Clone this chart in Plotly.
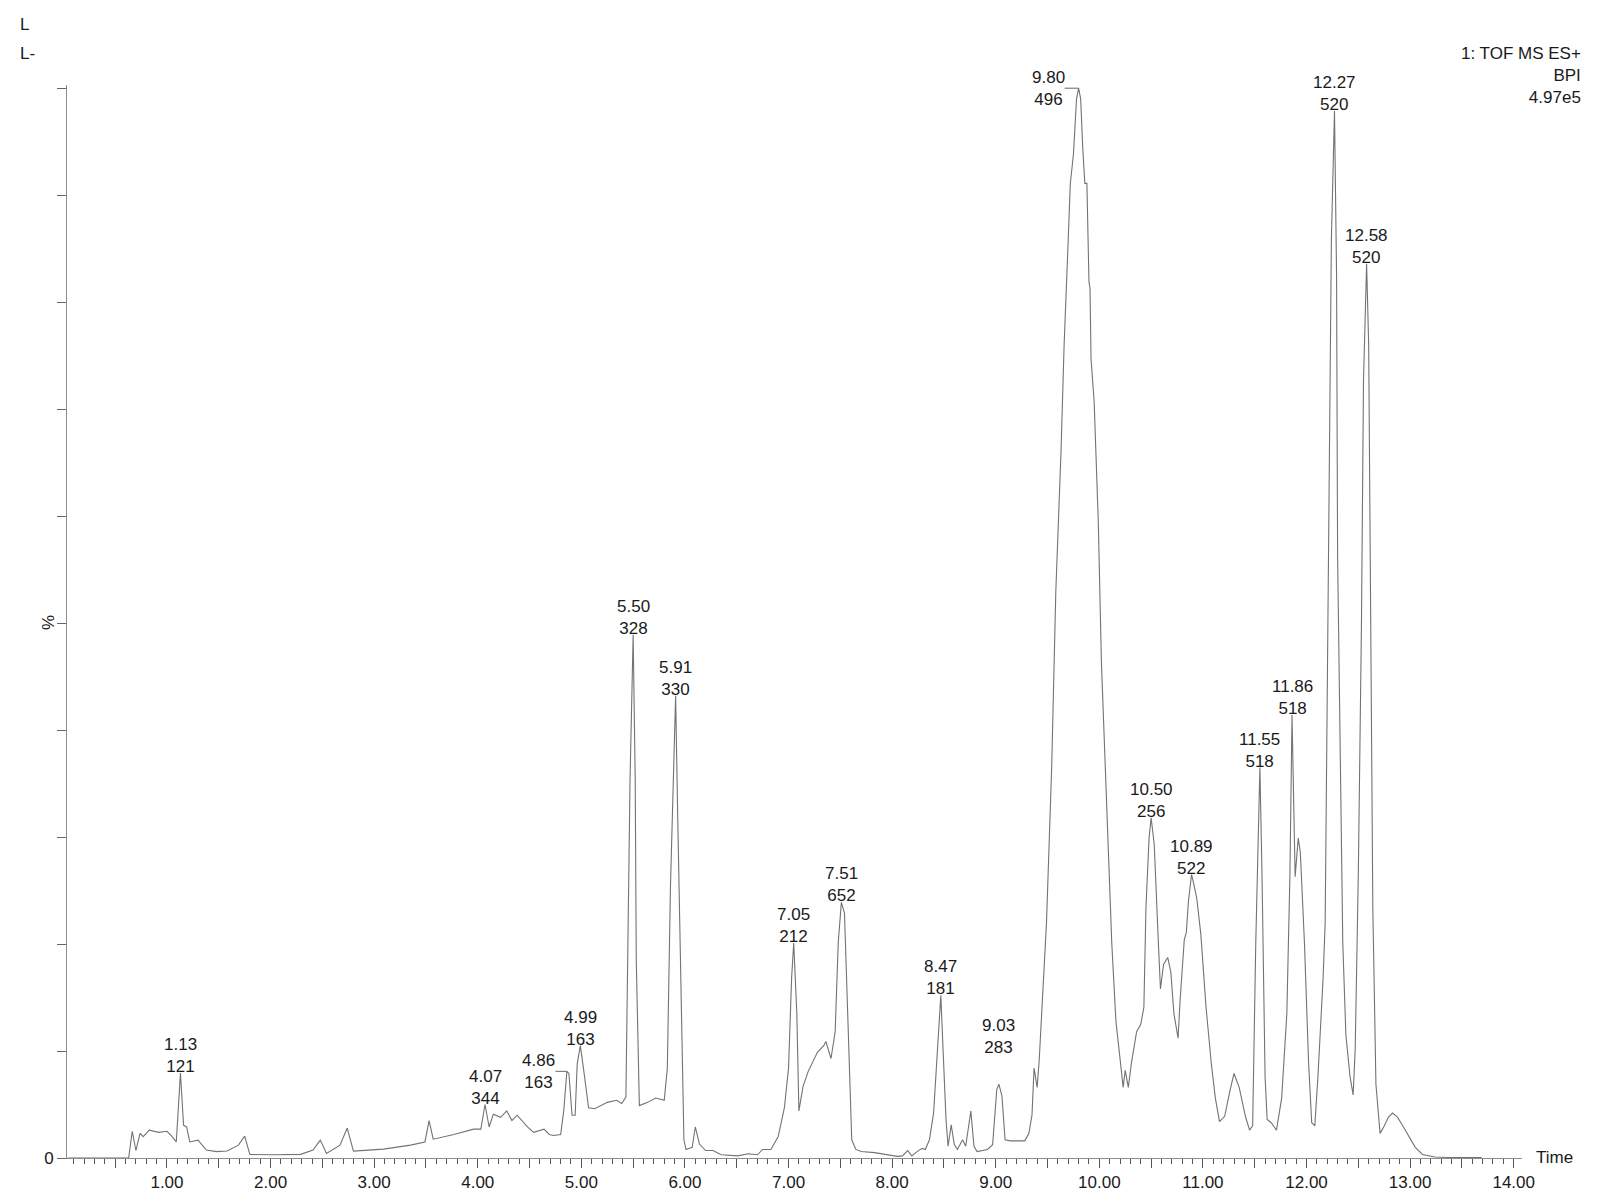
"""
Base peak intensity chromatogram (TOF MS ES+, BPI) redrawn with Plotly.
"""

import plotly.graph_objects as go

# retention time (min) and relative intensity (%)
TIME = [
    0.04, 0.63, 0.665, 0.70, 0.74, 0.77, 0.83, 0.92, 1.00, 1.05, 1.09, 1.13, 1.16, 1.19,
    1.22, 1.30, 1.38, 1.48, 1.58, 1.69, 1.75, 1.80, 2.03, 2.29, 2.41, 2.48, 2.54, 2.67,
    2.74, 2.80, 3.09, 3.35, 3.49, 3.53, 3.57, 3.77, 3.96, 4.03, 4.07, 4.11, 4.15, 4.22,
    4.28, 4.33, 4.38, 4.48, 4.54, 4.64, 4.69, 4.73, 4.80, 4.83, 4.86, 4.88, 4.91, 4.94,
    4.96, 4.99, 5.02, 5.07, 5.13, 5.25, 5.34, 5.39, 5.43, 5.45, 5.47, 5.50, 5.52, 5.53,
    5.56, 5.64, 5.72, 5.80, 5.83, 5.86, 5.89, 5.91, 5.93, 5.96, 5.99, 6.01, 6.07, 6.10,
    6.14, 6.20, 6.27, 6.35, 6.51, 6.61, 6.70, 6.75, 6.83, 6.90, 6.96, 7.00, 7.03, 7.05,
    7.08, 7.10, 7.14, 7.19, 7.24, 7.28, 7.34, 7.36, 7.41, 7.45, 7.48, 7.51, 7.54, 7.57,
    7.61, 7.65, 7.70, 7.83, 7.96, 8.05, 8.10, 8.15, 8.19, 8.24, 8.29, 8.32, 8.36, 8.40,
    8.44, 8.47, 8.49, 8.52, 8.54, 8.57, 8.60, 8.63, 8.68, 8.71, 8.76, 8.79, 8.82, 8.92,
    8.97, 9.01, 9.03, 9.06, 9.09, 9.14, 9.21, 9.28, 9.32, 9.35, 9.37, 9.40, 9.42, 9.45,
    9.49, 9.54, 9.58, 9.63, 9.66, 9.70, 9.72, 9.75, 9.78, 9.80, 9.82, 9.84, 9.86, 9.88,
    9.90, 9.91, 9.92, 9.95, 9.99, 10.02, 10.07, 10.12, 10.16, 10.21, 10.23, 10.25, 10.28,
    10.31, 10.36, 10.40, 10.43, 10.45, 10.48, 10.50, 10.53, 10.57, 10.59, 10.62, 10.66,
    10.69, 10.72, 10.76, 10.78, 10.82, 10.84, 10.86, 10.89, 10.91, 10.94, 10.98, 11.03,
    11.08, 11.12, 11.16, 11.21, 11.26, 11.30, 11.35, 11.41, 11.45, 11.48, 11.51, 11.53,
    11.55, 11.57, 11.60, 11.62, 11.66, 11.71, 11.76, 11.81, 11.84, 11.86, 11.88, 11.89,
    11.92, 11.94, 11.98, 12.02, 12.05, 12.08, 12.11, 12.16, 12.18, 12.20, 12.22, 12.24,
    12.27, 12.29, 12.30, 12.33, 12.35, 12.38, 12.42, 12.45, 12.47, 12.50, 12.53, 12.55,
    12.58, 12.60, 12.62, 12.64, 12.67, 12.71, 12.75, 12.79, 12.83, 12.88, 12.93, 12.99,
    13.05, 13.12, 13.24, 13.36, 13.69,
]
INTENSITY = [
    0.0, 0.0, 2.5, 0.7, 2.3, 2.0, 2.6, 2.4, 2.5, 2.0, 1.5, 7.95, 3.06, 2.9,
    1.5, 1.67, 0.74, 0.6, 0.65, 1.2, 2.05, 0.34, 0.3, 0.34, 0.74, 1.67, 0.43, 1.2,
    2.8, 0.65, 0.83, 1.2, 1.5, 3.5, 1.76, 2.2, 2.7, 2.7, 5.0, 2.9, 4.1, 3.8,
    4.4, 3.5, 4.0, 2.9, 2.4, 2.7, 2.2, 2.1, 2.2, 4.4, 8.1, 7.9, 4.0, 4.0,
    8.8, 10.5, 8.4, 4.7, 4.6, 5.2, 5.4, 5.1, 5.7, 18.5, 35.4, 48.9, 35.4, 18.5,
    4.9, 5.2, 5.6, 5.4, 8.4, 25.3, 35.4, 43.2, 32.0, 15.2, 1.7, 0.8, 1.0, 2.9,
    1.3, 0.7, 0.7, 0.3, 0.2, 0.4, 0.3, 0.8, 0.8, 2.0, 4.7, 8.4, 16.9, 20.1,
    13.5, 4.4, 6.7, 8.1, 9.1, 9.9, 10.5, 10.9, 9.3, 11.8, 20.2, 23.9, 22.9, 13.5,
    1.7, 0.8, 0.6, 0.5, 0.3, 0.15, 0.2, 0.7, 0.2, 0.6, 0.9, 0.8, 1.7, 4.2,
    10.5, 15.2, 10.5, 3.6, 1.1, 3.1, 1.25, 0.8, 1.7, 1.1, 4.4, 1.1, 0.6, 0.8,
    1.25, 6.4, 6.9, 5.8, 1.7, 1.6, 1.6, 1.6, 2.3, 4.0, 8.4, 6.6, 9.2, 14.8,
    22.0, 36.5, 53.0, 66.0, 76.0, 85.9, 91.1, 93.8, 99.0, 100.0, 99.0, 94.4, 91.1, 91.1,
    81.9, 81.3, 74.7, 70.7, 59.5, 46.4, 33.2, 20.1, 12.8, 8.2, 6.6, 8.2, 6.6,
    8.9, 11.8, 12.5, 14.1, 23.4, 29.9, 31.8, 29.3, 20.1, 15.8, 18.1, 18.75,
    17.4, 13.5, 11.2, 14.8, 20.4, 21.1, 24.0, 26.5, 25.7, 24.3, 20.9, 14.1,
    8.9, 5.6, 3.4, 3.9, 6.25, 7.9, 6.6, 3.9, 2.6, 3.0, 20.1, 29.9,
    36.5, 26.6, 7.6, 3.6, 3.3, 2.6, 5.6, 13.5, 26.6, 41.4, 29.9, 26.3,
    29.9, 28.6, 20.1, 8.9, 3.3, 3.0, 7.6, 16.8, 22.0, 43.1, 69.4, 85.9,
    97.9, 82.6, 56.3, 36.5, 20.1, 11.5, 7.6, 5.9, 10.2, 26.6, 49.7, 72.7,
    83.6, 76.0, 49.7, 23.4, 6.9, 2.3, 3.0, 3.8, 4.2, 3.8, 3.0, 2.0,
    1.0, 0.33, 0.1, 0.05, 0.05,
]

# labelled peaks: retention time and base peak m/z
PEAK_TIMES = [1.13, 4.07, 4.86, 4.99, 5.50, 5.91, 7.05, 7.51, 8.47, 9.03,
              9.80, 10.50, 10.89, 11.55, 11.86, 12.27, 12.58]
PEAK_MZ = [121, 344, 163, 163, 328, 330, 212, 652, 181, 283,
           496, 256, 522, 518, 518, 520, 520]

X_TICKS = [i * 0.5 for i in range(1, 29)]
Y_TICKS = list(range(0, 101, 10))

HEADER_LINES = ["1: TOF MS ES+", "BPI", "4.97e5"]

# labels drawn beside the peak with a leader (label offset in minutes)
SIDE_LABELS = {4.86: 0.11, 9.80: 0.135}
# extra lift (px) for labels raised above their apex
LABEL_LIFT = {9.03: 30}

FONT = "Arial, Liberation Sans, sans-serif"
TEXT_COLOR = "#1a1a1a"
TRACE_COLOR = "#737373"
AXIS_COLOR = "#8c8c8c"

W, H = 1604, 1204
L, R, T, B = 67, 1522, 85, 1163


def px_x(px):
    return (px - L) / (R - L)


def px_y(py):
    return (B - py) / (B - T)


def apex(t):
    near = [v for tt, v in zip(TIME, INTENSITY) if abs(tt - t) <= 0.021]
    return max(near)


fig = go.Figure()
fig.add_trace(go.Scatter(
    x=TIME, y=INTENSITY, mode="lines",
    line=dict(color=TRACE_COLOR, width=1.1),
    showlegend=False, hoverinfo="x+y",
))

annotations = []
shapes = []
for t, mz in zip(PEAK_TIMES, PEAK_MZ):
    y = apex(t)
    text = f"{t:.2f}<br>{mz}"
    if t in SIDE_LABELS:
        gap = SIDE_LABELS[t]
        annotations.append(dict(
            x=t - gap, y=y, xref="x", yref="y", text=text, showarrow=False,
            xanchor="right", yanchor="middle", align="center", xshift=2,
        ))
        shapes.append(dict(
            type="line", xref="x", yref="y", x0=t - gap, x1=t, y0=y, y1=y,
            line=dict(color=TRACE_COLOR, width=1.1),
        ))
    else:
        annotations.append(dict(
            x=t, y=y, xref="x", yref="y", text=text, showarrow=False,
            xanchor="center", yanchor="bottom", align="center",
            yshift=-5 + LABEL_LIFT.get(t, 0),
        ))

# corner texts
annotations += [
    dict(x=px_x(18), y=px_y(24), xref="paper", yref="paper", text="L",
         showarrow=False, xanchor="left", yanchor="middle"),
    dict(x=px_x(18), y=px_y(53), xref="paper", yref="paper", text="L-",
         showarrow=False, xanchor="left", yanchor="middle"),
    dict(x=px_x(1583), y=px_y(42), xref="paper", yref="paper",
         text="<br>".join(HEADER_LINES), showarrow=False,
         xanchor="right", yanchor="top", align="right"),
    dict(x=px_x(1534), y=px_y(1162), xref="paper", yref="paper", text="Time",
         showarrow=False, xanchor="left", yanchor="middle"),
    dict(x=px_x(48), y=50, xref="paper", yref="y", text="%", textangle=-90,
         showarrow=False, xanchor="center", yanchor="middle"),
]

fig.update_layout(
    width=W, height=H,
    margin=dict(l=L, r=W - R, t=T, b=H - B, pad=0),
    paper_bgcolor="white", plot_bgcolor="white",
    font=dict(family=FONT, size=17, color=TEXT_COLOR),
    annotations=annotations, shapes=shapes,
    showlegend=False,
)
fig.update_xaxes(
    range=[0.035, 14.08], showgrid=False, zeroline=False,
    showline=True, linecolor=AXIS_COLOR, linewidth=1,
    tickmode="array", tickvals=X_TICKS,
    ticktext=[f"{v:.2f}" if v == int(v) else "" for v in X_TICKS],
    ticks="outside", ticklen=9, tickcolor="#555", tickwidth=1,
    minor=dict(ticks="outside", ticklen=5, tickcolor="#555", dtick=0.1, tick0=0),
    tickfont=dict(size=17, color=TEXT_COLOR),
)
fig.update_yaxes(
    range=[0, 100.3], showgrid=False, zeroline=False,
    showline=True, linecolor=AXIS_COLOR, linewidth=1,
    tickmode="array", tickvals=Y_TICKS,
    ticktext=["0"] + [""] * (len(Y_TICKS) - 1),
    ticks="outside", ticklen=9, tickcolor="#666", tickwidth=1,
    tickfont=dict(size=17, color=TEXT_COLOR),
)

fig.write_html("out.html", config={"displayModeBar": False},
               post_script="document.body.style.margin='0';")
